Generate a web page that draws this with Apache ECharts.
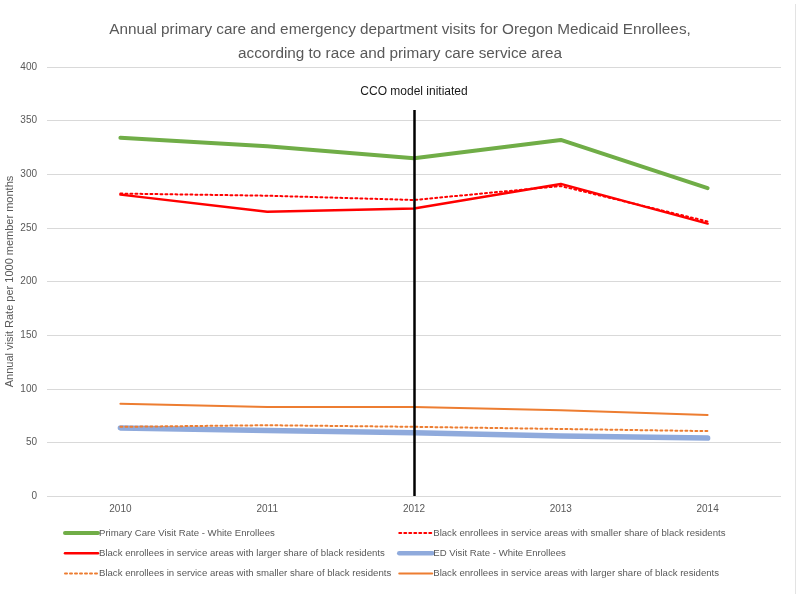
<!DOCTYPE html>
<html><head><meta charset="utf-8">
<script src="https://cdn.jsdelivr.net/npm/echarts@6/dist/echarts.min.js"></script>
<style>html,body{margin:0;padding:0;background:#fff}#c{width:800px;height:594px}</style>
</head><body><div id="c"></div>
<script>
var years = ['2010','2011','2012','2013','2014'];
var yTicks = {min:0, max:400, interval:50};
var pcWhite = [334, 326, 315, 332, 287];
var pcBlackSmaller = [282, 280, 276, 289, 256];
var pcBlackLarger = [281, 265, 268, 291, 254];
var edWhite = [63.5, 61, 59, 56, 54];
var edBlackSmaller = [64.5, 66, 64.5, 62.5, 60.5];
var edBlackLarger = [86, 83, 83, 80, 75.5];
var eventYear = '2012';
var eventTop = 360;
var eventLabel = 'CCO model initiated';
var titleText = 'Annual primary care and emergency department visits for Oregon Medicaid Enrollees,\naccording to race and primary care service area';
var yName = 'Annual visit Rate per 1000 member months';
var names = {
  pcW: 'Primary Care Visit Rate - White Enrollees',
  pcS: 'Black enrollees in service areas with smaller share of black residents',
  pcL: 'Black enrollees in service areas with larger share of black residents',
  edW: 'ED Visit Rate - White Enrollees',
  edS: 'Black enrollees in service areas with smaller share of black residents',
  edL: 'Black enrollees in service areas with larger share of black residents'
};

var font = '"Liberation Sans", Arial, sans-serif';
var gray = '#595959';
var widths = {pcW:4, pcS:2, pcL:2.5, edW:5.5, edS:2, edL:2};
function ser(id, data, color, type){
  return {id:id, name:id, type:'line', data:data, symbol:'none', showSymbol:false,
    lineStyle:{color:color, width:widths[id], type:type, cap:'round', join:'round'},
    itemStyle:{color:color}, z: 2};
}
var series = [
  ser('pcW', pcWhite, '#70ad47', 'solid'),
  ser('pcS', pcBlackSmaller, '#ff0000', [2,3]),
  ser('pcL', pcBlackLarger, '#ff0000', 'solid'),
  ser('edW', edWhite, '#8faadc', 'solid'),
  ser('edS', edBlackSmaller, '#ed7d31', [2,3]),
  ser('edL', edBlackLarger, '#ed7d31', 'solid')
];
series[0].markLine = {
  silent:true, symbol:'none',
  lineStyle:{color:'#000', width:2.5, type:'solid'},
  label:{show:true, position:'end', formatter:eventLabel, color:'#1a1a1a', fontSize:12, fontFamily:font, distance:12},
  data:[[{coord:[eventYear,0]},{coord:[eventYear,eventTop]}]]
};
function legItems(list){
  return list.map(function(id){ return {name:id, lineStyle:{width: Math.min(widths[id], 4.5)}}; });
}
var legendCommon = {
  orient:'vertical', itemWidth:33, itemHeight:10, itemGap:10.3,
  itemStyle:{opacity:0},
  textStyle:{color:gray, fontSize:9.6, fontFamily:font, padding:[0,0,0,-4]},
  formatter:function(n){return names[n];}
};
var chart = echarts.init(document.getElementById('c'), null, {renderer:'canvas'});
chart.setOption({
  animation:false,
  backgroundColor:'#fff',
  title:{text:titleText, left:'center', top:13, textStyle:{color:gray, fontSize:15.3, fontWeight:'normal', fontFamily:font, lineHeight:24}},
  grid:{left:47, right:19, top:67, bottom:98, outerBoundsMode:'none', containLabel:false},
  legend:[
    Object.assign({left:58, top:523, data:legItems(['pcW','pcL','edS'])}, legendCommon),
    Object.assign({left:392, top:523, data:legItems(['pcS','edW','edL'])}, legendCommon)
  ],
  graphic:[{type:'line', silent:true, shape:{x1:795.5, y1:4, x2:795.5, y2:594}, style:{stroke:'#e3e3e3', lineWidth:1}}],
  xAxis:{type:'category', data:years, boundaryGap:true,
    axisLine:{show:false}, axisTick:{show:false},
    axisLabel:{color:gray, fontSize:10, fontFamily:font, margin:8}},
  yAxis:{type:'value', min:yTicks.min, max:yTicks.max, interval:yTicks.interval,
    name:yName, nameLocation:'middle', nameGap:32, nameRotate:90, nameMoveOverlap:false,
    nameTextStyle:{color:gray, fontSize:11, fontFamily:font},
    axisLabel:{color:gray, fontSize:10, fontFamily:font, margin:10},
    splitLine:{lineStyle:{color:'#d9d9d9', width:1}}},
  series:series
});
</script></body></html>
